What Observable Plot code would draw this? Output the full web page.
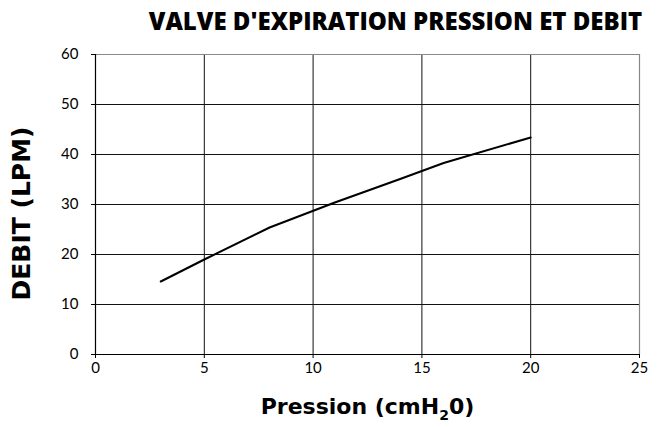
<!DOCTYPE html>
<html>
<head>
<meta charset="utf-8">
<script src="https://cdn.jsdelivr.net/npm/d3@7"></script>
<script src="https://cdn.jsdelivr.net/npm/@observablehq/plot@0.6"></script>
<style>
  html, body { margin: 0; padding: 0; background: #fff; }
  #wrap { width: 661px; height: 427px; position: relative; font-family: "Open Sans", Lato, sans-serif; }
  #title { position: absolute; left: 0; top: 0; width: 661px; height: 34px; }
  #title div { position: absolute; left: 130px; width: 531px; top: 6px; text-align: center; font-size: 24px; line-height: 30px; font-weight: 800; color: #000; white-space: nowrap; }
  #chart { position: absolute; left: 0; top: 34px; }
</style>
</head>
<body>
<div id="wrap">
  <div id="title"><div>VALVE D'EXPIRATION PRESSION ET DEBIT</div></div>
  <div id="chart"></div>
</div>
<script>
const pression = [3, 5, 8, 11, 14, 16, 20];
const debit = [14.6, 19.0, 25.4, 30.4, 35.1, 38.3, 43.4];
const xTicks = [0, 5, 10, 15, 20, 25];
const yTicks = [0, 10, 20, 30, 40, 50, 60];
const xLabel = "Pression (cmH₂0)";
const yLabel = "DEBIT (LPM)";

const data = pression.map((p, i) => ({p, d: debit[i]}));

const chart = Plot.plot({
  width: 661,
  height: 393,
  marginLeft: 95,
  marginRight: 22,
  marginTop: 20,
  marginBottom: 73,
  style: {fontFamily: "Lato, 'Open Sans', sans-serif", fontSize: "15px", color: "#000", background: "#fff"},
  x: {domain: [0, 25]},
  y: {domain: [0, 60]},
  marks: [
    Plot.ruleX(xTicks.filter(t => t > 0 && t < 25), {stroke: "#111", strokeWidth: 1}),
    Plot.ruleY(yTicks.filter(t => t > 0 && t < 60), {stroke: "#111", strokeWidth: 1}),
    Plot.ruleY([60], {stroke: "#888", strokeWidth: 1.2}),
    Plot.ruleX([25], {stroke: "#888", strokeWidth: 1.2}),
    Plot.ruleX([0], {stroke: "#000", strokeWidth: 1.2}),
    Plot.ruleY([0], {stroke: "#000", strokeWidth: 1.2}),
    Plot.axisX({ticks: xTicks, tickSize: 4, tickPadding: 4, label: null, fontSize: 15}),
    Plot.axisY({ticks: yTicks, tickSize: 4, tickPadding: 13, label: null, fontSize: 15}),
    Plot.line(data, {x: "p", y: "d", stroke: "#000", strokeWidth: 2}),
    Plot.text([xLabel], {text: d => d, frameAnchor: "bottom", textAnchor: "middle", dx: 0, dy: 59, fontSize: 22, fontWeight: "bold", fontFamily: "'DejaVu Sans', sans-serif", fill: "#000"}),
    Plot.text([yLabel], {text: d => d, frameAnchor: "left", textAnchor: "middle", dx: -74, dy: 9, rotate: -90, fontSize: 25, fontWeight: "bold", fontFamily: "'DejaVu Sans', sans-serif", fill: "#000"})
  ]
});
// render the "2" of cmH2O as a lowered subscript digit
d3.select(chart).selectAll("text").filter(function() { return this.textContent === xLabel; }).each(function() {
  const t = d3.select(this);
  t.text(null);
  t.append("tspan").text("Pression (cmH");
  t.append("tspan").attr("dy", 6).attr("font-size", "14px").text("2");
  t.append("tspan").attr("dy", -6).text("0)");
});
document.getElementById("chart").appendChild(chart);
</script>
</body>
</html>
